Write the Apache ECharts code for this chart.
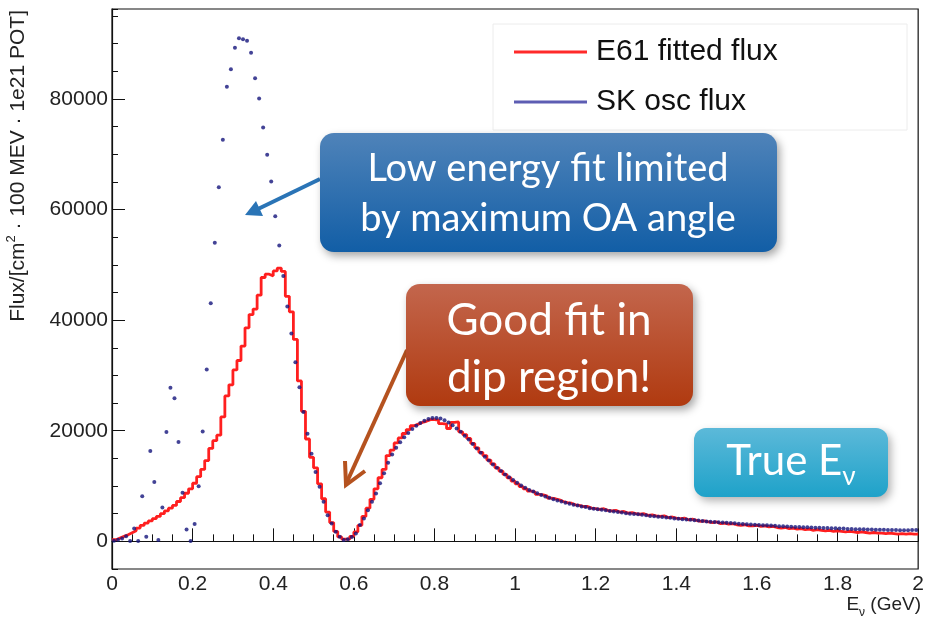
<!DOCTYPE html>
<html>
<head>
<meta charset="utf-8">
<title>E61 fitted flux vs SK osc flux</title>
<script src="https://cdn.jsdelivr.net/npm/echarts/dist/echarts.min.js"></script>
<style>
    html, body { margin: 0; padding: 0; background: #fff; }
    #main { width: 927px; height: 620px; }
</style>
</head>
<body>
<div id="main"></div>
<script>
// bins of 10 MeV from 0 to 2 GeV, one row = 0.1 GeV
var binWidth = 0.01;
var xTicks = [0, 0.2, 0.4, 0.6, 0.8, 1, 1.2, 1.4, 1.6, 1.8, 2];
var yTicks = [0, 20000, 40000, 60000, 80000];

// E61 fitted flux (red histogram)
var e61Flux = [
    300, 600, 900, 1200, 1550, 1900, 2400, 2900, 3300, 3700,
    4100, 4500, 5000, 5500, 6000, 6500, 7200, 7900, 8700, 9500,
    10500, 11700, 13000, 14600, 16800, 18200, 19200, 22500, 26300, 28300,
    31000, 32700, 35300, 38600, 41000, 42000, 44500, 47700, 48300, 48000,
    48900, 49400, 48800, 44300, 41500, 36500, 29000, 23500, 18500, 15200,
    13300, 10400, 7700, 5300, 3400, 1800, 800, 400, 400, 900,
    1700, 2900, 4500, 6000, 7600, 9500, 11500, 13000, 15500, 16500,
    17800, 18700, 19500, 20200, 20900, 21200, 21500, 21700, 22000, 22000,
    21900, 21300, 21200, 20400, 21500, 21600, 19800, 19300, 18600, 17700,
    16900, 16100, 15500, 14700, 14000, 13300, 12700, 12100, 11500, 10900,
    10400, 9900, 9500, 9100, 8900, 8500, 8400, 8200, 7800, 7700,
    7500, 7200, 7000, 6900, 6600, 6500, 6300, 6300, 6000, 5900,
    5800, 5900, 5600, 5500, 5600, 5300, 5400, 5100, 5200, 5000,
    4900, 5000, 4700, 4800, 4600, 4500, 4600, 4300, 4400, 4200,
    4100, 4200, 3900, 4000, 3800, 3600, 3700, 3500, 3400, 3500,
    3200, 3300, 3100, 3200, 3000, 2900, 3000, 2800, 2800, 2900,
    2700, 2800, 2600, 2700, 2500, 2400, 2500, 2300, 2400, 2200,
    2300, 2100, 2200, 2000, 2100, 2000, 1900, 2000, 1800, 1900,
    1800, 1700, 1800, 1700, 1600, 1700, 1600, 1500, 1600, 1500,
    1500, 1400, 1500, 1400, 1300, 1400, 1300, 1400, 1300, 1300
];

// SK oscillated flux (blue markers)
var skFlux = [
    100, 300, 500, 900, 50, 2340, 50, 8160, 850, 16340,
    10750, 230, 6130, 19760, 27750, 25890, 17960, 8770, 2160, 50,
    3120, 9960, 19880, 31050, 43060, 54000, 64000, 72600, 82200, 85350,
    89250, 90940, 90760, 90500, 88340, 83730, 80050, 74830, 69910, 65050,
    58790, 53510, 47980, 42470, 37600, 32380, 27870, 23370, 19460, 15860,
    12550, 9850, 7150, 4740, 3240, 1750, 850, 230, 400, 800,
    1440, 2940, 4140, 5640, 7150, 8650, 10500, 12300, 14200, 15700,
    16900, 17900, 18800, 19600, 20300, 20900, 21400, 21800, 22100, 22300,
    22300, 22200, 21900, 21500, 21000, 20400, 19800, 19100, 18400, 17600,
    16800, 16000, 15300, 14600, 13900, 13300, 12700, 12100, 11600, 11100,
    10600, 10100, 9700, 9300, 9000, 8700, 8400, 8100, 7900, 7600,
    7400, 7200, 7000, 6800, 6600, 6500, 6300, 6200, 6000, 5900,
    5800, 5700, 5600, 5500, 5400, 5300, 5200, 5100, 5000, 4950,
    4900, 4800, 4700, 4600, 4550, 4450, 4400, 4300, 4250, 4150,
    4100, 4000, 3950, 3900, 3800, 3750, 3700, 3600, 3550, 3500,
    3450, 3400, 3350, 3300, 3250, 3200, 3150, 3100, 3050, 3000,
    2950, 2900, 2900, 2850, 2800, 2750, 2750, 2700, 2650, 2600,
    2600, 2550, 2550, 2500, 2450, 2450, 2400, 2400, 2350, 2350,
    2300, 2300, 2250, 2250, 2200, 2200, 2200, 2150, 2150, 2100,
    2100, 2100, 2050, 2050, 2050, 2000, 2000, 2000, 2050, 2050
];

var legendNames = ['E61 fitted flux', 'SK osc flux'];

// histogram: low edge of each bin + closing point at 2 GeV
var redSteps = e61Flux.map(function (v, i) { return [+(i * binWidth).toFixed(2), v]; });
redSteps.push([2, e61Flux[e61Flux.length - 1]]);
// markers at bin centres
var bluePts = skFlux.map(function (v, i) { return [+((i + 0.5) * binWidth).toFixed(3), v]; });

var axisFont = 'Liberation Sans';
var boxFont = 'Lato';

var myChart = echarts.init(document.getElementById('main'));

var option = {
    animation: false,
    backgroundColor: '#fff',
    grid: {
        left: 112, right: 5, top: 9, bottom: 51,
        show: true, borderColor: '#111', borderWidth: 1.2
    },
    legend: {
        orient: 'vertical',
        left: 509,
        top: 32,
        itemWidth: 73,
        itemHeight: 3,
        itemGap: 20,
        textStyle: { fontFamily: axisFont, fontSize: 30, color: '#111', padding: [0, 0, 0, 4] },
        data: [
            { name: legendNames[0], icon: 'rect', itemStyle: { color: '#ff2a2a' } },
            { name: legendNames[1], icon: 'rect', itemStyle: { color: '#3434a0' } }
        ]
    },
    xAxis: {
        type: 'value',
        min: xTicks[0],
        max: xTicks[xTicks.length - 1],
        interval: 0.2,
        axisLine: { lineStyle: { color: '#111', width: 1.2 } },
        axisTick: { inside: true, length: 13, lineStyle: { color: '#111' } },
        minorTick: { show: true, splitNumber: 4, length: 7, lineStyle: { color: '#111' } },
        splitLine: { show: false },
        axisLabel: {
            fontFamily: axisFont, fontSize: 21, color: '#222', margin: 5,
            formatter: function (v) { return String(+v.toFixed(1)); }
        }
    },
    yAxis: [{
        type: 'value',
        min: -5000,
        max: 96250,
        splitNumber: 5,
        axisLine: { show: true, lineStyle: { color: '#111', width: 1.2 } },
        axisTick: { inside: true, length: 13, lineStyle: { color: '#111' } },
        splitLine: { show: false },
        axisLabel: {
            fontFamily: axisFont, fontSize: 21, color: '#222', margin: 4,
            showMinLabel: false, showMaxLabel: false,
            formatter: function (v) { return yTicks.indexOf(v) >= 0 ? String(v) : ''; }
        }
    }, {
        // only here for the small ticks every 5000
        type: 'value',
        min: -5000,
        max: 96250,
        interval: 5000,
        position: 'left',
        axisLine: { show: false },
        axisTick: { inside: true, length: 6, lineStyle: { color: '#111' } },
        axisLabel: { show: false },
        splitLine: { show: false }
    }],
    series: [{
        name: legendNames[0],
        type: 'line',
        step: 'end',
        data: redSteps,
        showSymbol: false,
        color: '#ff2a2a',
        lineStyle: { color: '#ff1f1f', width: 2.8 },
        z: 2
    }, {
        name: legendNames[1],
        type: 'scatter',
        data: bluePts,
        symbolSize: 4,
        itemStyle: { color: '#14147c' },
        z: 3
    }],
    graphic: [
        // y title
        {
            type: 'text', x: 17, y: 10, rotation: Math.PI / 2,
            style: {
                text: '{a|Flux/[cm}{s|2}{a| · 100 MEV · 1e21 POT]}',
                textAlign: 'right', textVerticalAlign: 'middle',
                rich: {
                    a: { fontFamily: axisFont, fontSize: 21, fill: '#222', lineHeight: 24, verticalAlign: 'bottom' },
                    s: { fontFamily: axisFont, fontSize: 13, fill: '#222', lineHeight: 24, verticalAlign: 'top' }
                }
            }
        },
        // x title
        {
            type: 'text', x: 921, y: 607,
            style: {
                text: '{a|E}{s|ν}{a| (GeV)}',
                textAlign: 'right', textVerticalAlign: 'middle',
                rich: {
                    a: { fontFamily: axisFont, fontSize: 19, fill: '#222', lineHeight: 24, verticalAlign: 'top' },
                    s: { fontFamily: axisFont, fontSize: 12, fill: '#222', lineHeight: 24, verticalAlign: 'bottom' }
                }
            }
        },
        // legend frame
        {
            type: 'rect', z: 1,
            shape: { x: 493, y: 24, width: 414, height: 106 },
            style: { fill: '#fff', stroke: '#ececec', lineWidth: 1 }
        },
        // blue note + arrow
        {
            type: 'line', z: 20,
            shape: { x1: 320, y1: 179, x2: 258, y2: 209 },
            style: { stroke: '#2a74b6', lineWidth: 4 }
        },
        {
            type: 'polygon', z: 20,
            shape: { points: [[245, 215], [256, 201], [263, 216]] },
            style: { fill: '#2a74b6' }
        },
        {
            type: 'rect', z: 21,
            shape: { x: 320, y: 133, width: 457, height: 119, r: 14 },
            style: {
                fill: new echarts.graphic.LinearGradient(0, 0, 0, 1, [
                    { offset: 0, color: '#4f83b9' }, { offset: 1, color: '#125ea6' }
                ]),
                shadowBlur: 8, shadowOffsetX: 3, shadowOffsetY: 4, shadowColor: 'rgba(0,0,0,0.35)'
            }
        },
        {
            type: 'text', z: 22, x: 548, y: 194,
            style: {
                text: 'Low energy fit limited\nby maximum OA angle',
                fill: '#fff', fontFamily: boxFont, fontSize: 38, lineHeight: 50,
                textAlign: 'center', textVerticalAlign: 'middle'
            }
        },
        // red note + arrow
        {
            type: 'polyline', z: 20,
            shape: { points: [[407, 350], [346, 484]] },
            style: { stroke: '#b5521f', lineWidth: 4 }
        },
        {
            type: 'polyline', z: 20,
            shape: { points: [[345, 461], [346, 485], [365, 471]] },
            style: { stroke: '#b5521f', lineWidth: 4, fill: null }
        },
        {
            type: 'rect', z: 21,
            shape: { x: 406, y: 284, width: 287, height: 122, r: 14 },
            style: {
                fill: new echarts.graphic.LinearGradient(0, 0, 0, 1, [
                    { offset: 0, color: '#c3664d' }, { offset: 1, color: '#b03a10' }
                ]),
                shadowBlur: 8, shadowOffsetX: 3, shadowOffsetY: 4, shadowColor: 'rgba(0,0,0,0.35)'
            }
        },
        {
            type: 'text', z: 22, x: 549, y: 349,
            style: {
                text: 'Good fit in\ndip region!',
                fill: '#fff', fontFamily: boxFont, fontSize: 44, lineHeight: 57,
                textAlign: 'center', textVerticalAlign: 'middle'
            }
        },
        // True E_v tag
        {
            type: 'rect', z: 21,
            shape: { x: 694, y: 428, width: 194, height: 69, r: 12 },
            style: {
                fill: new echarts.graphic.LinearGradient(0, 0, 0, 1, [
                    { offset: 0, color: '#5cb9d9' }, { offset: 1, color: '#1ea2c9' }
                ]),
                shadowBlur: 8, shadowOffsetX: 3, shadowOffsetY: 4, shadowColor: 'rgba(0,0,0,0.3)'
            }
        },
        {
            type: 'text', z: 22, x: 791, y: 465,
            style: {
                text: '{a|True E}{s|ν}',
                textAlign: 'center', textVerticalAlign: 'middle',
                rich: {
                    a: { fontFamily: boxFont, fontSize: 42, fill: '#fff', lineHeight: 50, verticalAlign: 'top' },
                    s: { fontFamily: boxFont, fontSize: 26, fill: '#fff', lineHeight: 50, verticalAlign: 'bottom' }
                }
            }
        }
    ]
};

myChart.setOption(option);
</script>
</body>
</html>
